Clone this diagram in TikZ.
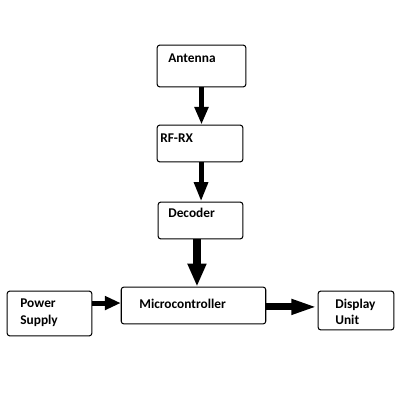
\documentclass[tikz,border=0pt]{standalone}
\usepackage{fontspec}
\setmainfont{Carlito}
\usetikzlibrary{arrows.meta}

\begin{document}
\begin{tikzpicture}[x=0.02cm, y=-0.02cm, font=\fontsize{7.6}{9.5}\selectfont\bfseries,
  blk/.style={draw, line width=0.6pt, rounded corners=1.5pt, inner sep=0pt},
  lbl/.style={anchor=west, align=left, inner sep=0pt},
  arr/.style={line width=2.8pt, -{Triangle[length=10pt, width=7.5pt]}}]

\useasboundingbox (0,0) rectangle (400,400);

% --- Blocks -----------------------------------------------------------------
\node[blk, minimum width=89*0.567pt, minimum height=42*0.567pt] (ant)  at (201.5,66)  {};
\node[blk, minimum width=86*0.567pt, minimum height=37*0.567pt] (rfrx) at (200,143.5)  {};
\node[blk, minimum width=85*0.567pt, minimum height=37*0.567pt] (dec)  at (200.5,220.5) {};
\node[blk, minimum width=145*0.567pt, minimum height=37*0.567pt] (mcu) at (193.5,305.5) {};
\node[blk, minimum width=85*0.567pt, minimum height=45*0.567pt] (pwr)  at (49.5,313.5) {};
\node[blk, minimum width=76*0.567pt, minimum height=39*0.567pt] (disp) at (356,310.5)  {};

% --- Labels -----------------------------------------------------------------
\node[lbl] (antT)  at (168,58)  {Antenna};
\node[lbl] (rfrxT) at (160,138) {RF-RX};
\node[lbl] (decT)  at (168,213) {Decoder};
\node[lbl] (mcuT)  at (139,304) {Microcontroller};
\node[lbl] (pwrT)  at (20,313)  {Power\\Supply};
\node[lbl] (dispT) at (335,312) {Display\\Unit};

% --- Arrows -----------------------------------------------------------------
\draw[arr] (ant.south) -- (ant.south |- rfrx.north);
\draw[arr, -{Triangle[length=11pt, width=7.5pt]}] ([xshift=0.6pt]rfrx.south) -- ([xshift=0.6pt]rfrx.south |- dec.north);
\draw[arr, line width=5pt, -{Triangle[length=13pt, width=10pt]}]
  ([xshift=-2pt]dec.south) -- ([xshift=-2pt]dec.south |- mcu.north);
\draw[arr, -{Triangle[length=9pt, width=7.5pt]}]
  ([yshift=1.4pt]pwr.east |- mcu.west) -- ([yshift=1.4pt]mcu.west);
\draw[arr, line width=4pt, -{Triangle[length=15pt, width=8pt]}]
  ([yshift=-0.8pt]mcu.east) -- ([yshift=-0.8pt]mcu.east -| disp.west);

\end{tikzpicture}
\end{document}
